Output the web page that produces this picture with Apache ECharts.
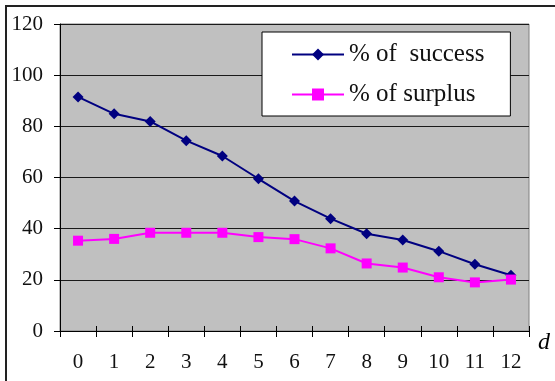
<!DOCTYPE html>
<html>
<head>
<meta charset="utf-8">
<script src="https://cdn.jsdelivr.net/npm/echarts@6/dist/echarts.min.js"></script>
<style>
  html, body { margin: 0; padding: 0; background: #fff; }
  #chart { width: 555px; height: 381px; }
</style>
</head>
<body>
<div id="chart"></div>
<script>
// distance d on the horizontal axis
const dValues = ['0', '1', '2', '3', '4', '5', '6', '7', '8', '9', '10', '11', '12'];
// percentage of successful runs for each d
const successPct = [91.5, 84.9, 81.9, 74.4, 68.4, 59.5, 50.8, 43.9, 38.0, 35.6, 31.2, 26.1, 21.8];
// percentage of surplus for each d
const surplusPct = [35.3, 36.0, 38.4, 38.4, 38.4, 36.7, 35.9, 32.3, 26.4, 24.8, 21.0, 19.0, 20.1];
// value axis ticks
const yTicks = { min: 0, max: 120, step: 20 };

const serif = 'Liberation Serif, Times New Roman, serif';
const chart = echarts.init(document.getElementById('chart'), null, { renderer: 'canvas' });

chart.setOption({
  animation: false,
  backgroundColor: '#ffffff',
  textStyle: { fontFamily: serif },
  graphic: [{
    type: 'rect',
    shape: { x: 6, y: 6, width: 600, height: 420 },
    style: { fill: 'none', stroke: '#222', lineWidth: 2 },
    z: 100
  }],
  grid: {
    left: 60, right: 26, top: 24, bottom: 50,
    show: true,
    backgroundColor: '#c0c0c0',
    borderColor: '#808080',
    borderWidth: 1
  },
  legend: {
    orient: 'vertical',
    left: 262, top: 32,
    backgroundColor: '#ffffff',
    borderColor: '#000000',
    borderWidth: 1,
    padding: [10, 26, 9, 29],
    itemWidth: 52,
    itemHeight: 15,
    itemGap: 15,
    textStyle: { fontFamily: serif, fontSize: 25, color: '#111' },
    data: ['% of  success', '% of surplus']
  },
  xAxis: [{
    type: 'category',
    data: dValues,
    boundaryGap: true,
    axisLine: { lineStyle: { color: '#000', width: 1 } },
    axisTick: { show: true, inside: false, length: 6, lineStyle: { color: '#000' } },
    axisLabel: { fontFamily: serif, fontSize: 21, color: '#111', margin: 21 },
    splitLine: { show: false },
    name: 'd',
    nameLocation: 'end',
    nameGap: 9,
    nameTextStyle: { fontFamily: serif, fontStyle: 'italic', fontSize: 24, color: '#000', verticalAlign: 'top' }
  }, {
    type: 'category',
    data: dValues,
    position: 'bottom',
    boundaryGap: true,
    axisLine: { show: false },
    axisTick: { show: true, inside: true, length: 5, lineStyle: { color: '#000' } },
    axisLabel: { show: false },
    splitLine: { show: false }
  }],
  yAxis: {
    type: 'value',
    min: yTicks.min, max: yTicks.max, interval: yTicks.step,
    axisLine: { show: true, lineStyle: { color: '#000', width: 1 } },
    axisTick: { show: true, inside: false, length: 6, lineStyle: { color: '#000' } },
    axisLabel: { fontFamily: serif, fontSize: 21, color: '#111', margin: 17 },
    splitLine: { show: true, lineStyle: { color: '#1a1a1a', width: 1 } }
  },
  series: [{
    name: '% of  success',
    type: 'line',
    data: successPct,
    symbol: 'diamond',
    symbolSize: 11,
    color: '#000080',
    lineStyle: { color: '#000080', width: 2 },
    itemStyle: { color: '#000080' }
  }, {
    name: '% of surplus',
    type: 'line',
    data: surplusPct,
    symbol: 'rect',
    symbolSize: 10,
    color: '#ff00ff',
    lineStyle: { color: '#ff00ff', width: 2 },
    itemStyle: { color: '#ff00ff' }
  }]
});
</script>
</body>
</html>
